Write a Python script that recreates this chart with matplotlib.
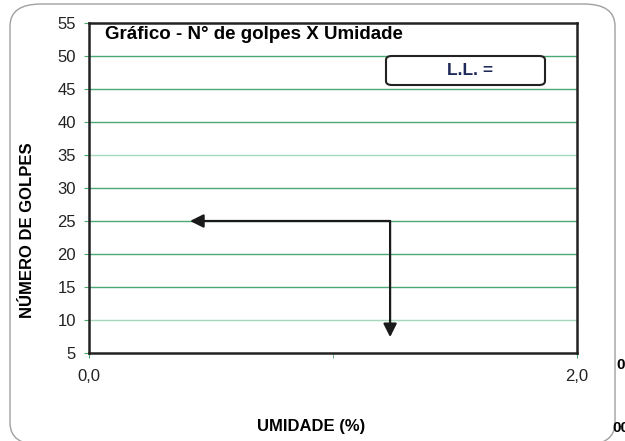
import matplotlib
matplotlib.use('Agg')
import matplotlib.pyplot as plt
from matplotlib.patches import FancyBboxPatch
from matplotlib.ticker import FixedLocator, FuncFormatter

# eixos e anotações do gráfico
y_ticks = [5, 10, 15, 20, 25, 30, 35, 40, 45, 50, 55]
x_major = [0.0, 2.0]
x_minor = [1.0]
light_grid = [10, 35]
golpes_ref = 25
umidade_seta = 1.234
seta_x_fim = 0.414
seta_y_fim = 7.4

plt.rcParams['font.family'] = ['Liberation Sans', 'DejaVu Sans']

fig = plt.figure(figsize=(6.25, 4.41), dpi=100)
fig.patches.append(FancyBboxPatch((10 / 625, -4 / 441), 605 / 625, 441 / 441,
                                  boxstyle='round,pad=0,rounding_size=0.05',
                                  transform=fig.transFigure, fill=False,
                                  edgecolor='#a0a0a0', linewidth=1.0))

ax = fig.add_axes([89 / 625, 1 - 353 / 441, 488 / 625, 330 / 441])
ax.set_xlim(0, 2)
ax.set_ylim(5, 55)

for y in y_ticks[1:-1]:
    cor = '#a8d8bc' if y in light_grid else '#4aa874'
    ax.axhline(y, color=cor, linewidth=1.0, zorder=1)

for s in ax.spines.values():
    s.set_linewidth(1.8)
    s.set_color('#222222')

ax.yaxis.set_major_locator(FixedLocator(y_ticks))
ax.xaxis.set_major_locator(FixedLocator(x_major))
ax.xaxis.set_minor_locator(FixedLocator(x_minor))
ax.xaxis.set_major_formatter(FuncFormatter(lambda v, p: f'{v:.1f}'.replace('.', ',')))
ax.tick_params(axis='y', direction='out', length=3.5, color='#4aa874', labelsize=12,
               pad=6, labelcolor='#222222')
ax.tick_params(axis='x', which='major', direction='out', length=3.5, color='#4aa874',
               labelsize=12, pad=8, labelcolor='#222222')
ax.tick_params(axis='x', which='minor', direction='out', length=3.5, color='#4aa874')

ax.text(0.033, 0.99, 'Gráfico - N° de golpes X Umidade', transform=ax.transAxes,
        fontsize=13.5, fontweight='bold', va='top', ha='left')

ax.add_patch(FancyBboxPatch((297 / 488, 1 - 62 / 330), 159 / 488, 29 / 330,
                            boxstyle='round,pad=0,rounding_size=0.012',
                            transform=ax.transAxes, fill=True, facecolor='white',
                            edgecolor='#222222', linewidth=1.5, zorder=3))
ax.text(0.78, 1 - 48 / 330, 'L.L. =', transform=ax.transAxes, fontsize=12.5,
        fontweight='bold', color='#1f2a5a', ha='center', va='center', zorder=4)

ax.annotate('', xy=(seta_x_fim, golpes_ref), xytext=(umidade_seta, golpes_ref),
            arrowprops=dict(arrowstyle='-|>,head_length=0.5,head_width=0.25',
                            color='#1a1a1a', lw=1.6,
                            mutation_scale=16, shrinkA=0, shrinkB=0), zorder=5)
ax.annotate('', xy=(umidade_seta, seta_y_fim), xytext=(umidade_seta, golpes_ref),
            arrowprops=dict(arrowstyle='-|>,head_length=0.5,head_width=0.25',
                            color='#1a1a1a', lw=1.6,
                            mutation_scale=16, shrinkA=0, shrinkB=0), zorder=5)

fig.text(28 / 625, 1 - 230 / 441, 'NÚMERO DE GOLPES', rotation=90, fontsize=12,
         fontweight='bold', ha='center', va='center')
fig.text(311 / 625, 1 - 427 / 441, 'UMIDADE (%)', fontsize=12, fontweight='bold',
         ha='center', va='center')
fig.text(616 / 625, 1 - 365 / 441, '0', fontsize=11, fontweight='bold',
         ha='left', va='center')
fig.text(612 / 625, 1 - 428 / 441, '00', fontsize=11, fontweight='bold',
         ha='left', va='center')

fig.savefig('out.png', dpi=100)
